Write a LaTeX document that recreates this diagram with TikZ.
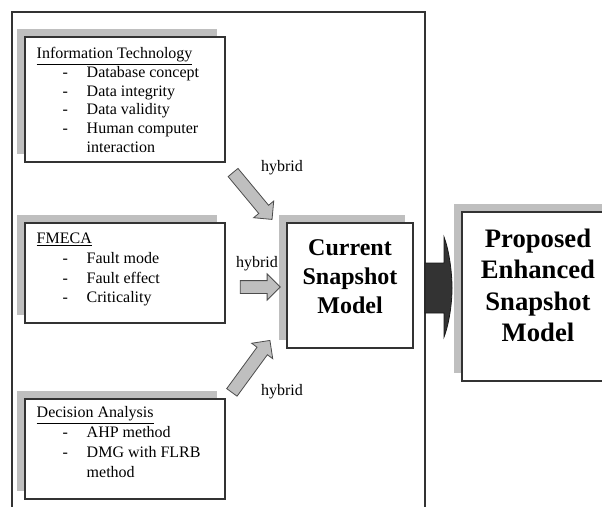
\documentclass[tikz,border=0pt]{standalone}
\usepackage{fontspec}
\setmainfont{Liberation Serif}
\usetikzlibrary{shapes.arrows,shadows}

% list entries inside the source boxes
\newcommand{\itm}[1]{\hspace*{19.5pt}\makebox[18pt][l]{-}#1}
\newcommand{\cnt}[1]{\hspace*{37.5pt}#1}

\begin{document}
\begin{tikzpicture}[x=0.75pt,y=-0.75pt,
	frame/.style={draw=black!80,line width=0.8pt},
	shadowbox/.style={draw=black!80,line width=0.8pt,fill=white,
		general shadow={fill=black!25,shadow xshift=-6pt,shadow yshift=6pt}},
	srcbox/.style={shadowbox,minimum width=150pt,minimum height=75pt},
	listtext/.style={anchor=north west,inner sep=0pt,align=left,font=\fontsize{12}{14.9}\selectfont},
	bigtext/.style={anchor=north,inner sep=0pt,align=center},
	flowarrow/.style={single arrow,draw=black!70,fill=black!25,line width=0.6pt,
		inner sep=4.5pt,single arrow head extend=5pt,single arrow tip angle=90},
	hyb/.style={anchor=base,inner sep=0pt,font=\fontsize{12}{14}\selectfont}]
	\useasboundingbox (0,0) rectangle (602,506);
	\clip (0,0) rectangle (602,506);
	% outer frame
	\draw[frame] (12,515) |- (425,12) -- (425,515);
	% source boxes
	\node[srcbox,minimum height=93.75pt] (itbox) at (125,99.5) {};
	\node[listtext,font=\fontsize{12}{14}\selectfont] (ittext) at ([shift={(12,11)}]itbox.north west)
		{\underline{Information Technology}\\ \itm{Database concept}\\ \itm{Data integrity}\\
		 \itm{Data validity}\\ \itm{Human computer}\\ \cnt{interaction}};
	\node[srcbox] (fmbox) at (125,273) {};
	\node[listtext] (fmtext) at ([shift={(12,10)}]fmbox.north west)
		{\underline{FMECA}\\ \itm{Fault mode}\\ \itm{Fault effect}\\ \itm{Criticality}};
	\node[srcbox] (dabox) at (125,449) {};
	\node[listtext] (datext) at ([shift={(12,8)}]dabox.north west)
		{\underline{Decision Analysis}\\ \itm{AHP method}\\ \itm{DMG with FLRB}\\ \cnt{method}};
	% models
	\node[shadowbox,minimum width=94.5pt,minimum height=93.75pt] (curbox) at (350,285.5) {};
	\node[bigtext,font=\fontsize{18}{21.5}\selectfont\bfseries] (curtext) at ([yshift=-13]curbox.north)
		{Current\\Snapshot\\Model};
	\node[shadowbox,minimum width=114pt,minimum height=126.75pt] (propbox) at (538,296.5) {};
	\node[bigtext,font=\fontsize{20}{23.5}\selectfont\bfseries] (proptext) at ([yshift=-13]propbox.north)
		{Proposed\\Enhanced\\Snapshot\\Model};
	% hybrid arrows
	\node[flowarrow,minimum height=45.75pt,rotate=-50.3] (arrA) at (250.5,193.5) {};
	\node[flowarrow,minimum height=30pt] (arrB) at (257,287) {};
	\node[flowarrow,minimum height=48.3pt,rotate=53.8] (arrC) at (249,369) {};
	\node[hyb] (hybA) at (282,171) {hybrid};
	\node[hyb] (hybB) at (257,267) {hybrid};
	\node[hyb] (hybC) at (282,395) {hybrid};
	% dark arrow to the proposed model
	\filldraw[fill=black!80,draw=black!90,line width=0.6pt] (425,263) -- (444,263) -- (444,237)
		.. controls (449,250) and (452,272) .. (452,288)
		.. controls (452,304) and (449,324) .. (444,337) -- (444,313) -- (425,313) -- cycle;
\end{tikzpicture}
\end{document}
